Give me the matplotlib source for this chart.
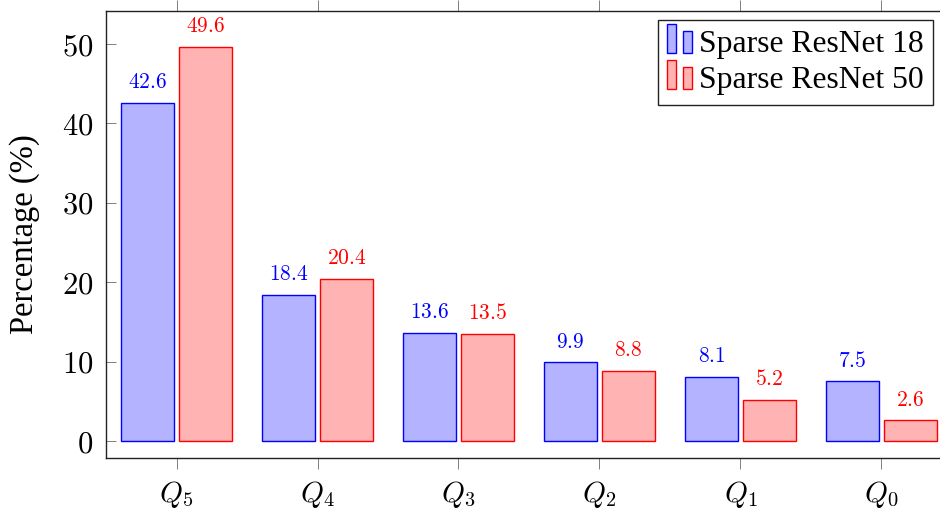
import numpy as np
import matplotlib.pyplot as plt
from matplotlib.legend_handler import HandlerBase
from matplotlib.patches import Rectangle, Patch

plt.rcParams['font.family'] = ['Liberation Serif', 'DejaVu Serif']
plt.rcParams['mathtext.fontset'] = 'cm'

# donnees
categories = [r'$Q_5$', r'$Q_4$', r'$Q_3$', r'$Q_2$', r'$Q_1$', r'$Q_0$']
resnet18 = [42.6, 18.4, 13.6, 9.9, 8.1, 7.5]
resnet50 = [49.6, 20.4, 13.5, 8.8, 5.2, 2.6]
labels = ['Sparse ResNet 18', 'Sparse ResNet 50']

blue_fill, blue_edge = '#b3b3ff', '#0000ff'
red_fill, red_edge = '#ffb3b3', '#ff0000'


class TwoBars(HandlerBase):  # legende style pgfplots ybar
    def create_artists(self, legend, orig_handle, xdescent, ydescent,
                       width, height, fontsize, trans):
        fc = orig_handle.get_facecolor()
        ec = orig_handle.get_edgecolor()
        w = width * 0.36
        r1 = Rectangle((-xdescent, -ydescent), w, height * 1.25,
                       facecolor=fc, edgecolor=ec, lw=1.0, transform=trans)
        r2 = Rectangle((-xdescent + width - w, -ydescent), w, height * 0.95,
                       facecolor=fc, edgecolor=ec, lw=1.0, transform=trans)
        return [r1, r2]


fig = plt.figure(figsize=(9.4, 5.13), dpi=100)
W, H = 940, 513
ax = fig.add_axes([106 / W, 1 - 457.7 / H, (952 - 106) / W, (457.7 - 10.7) / H])

x = np.arange(len(categories))
off, bw = 0.205, 0.38
b1 = ax.bar(x - off, resnet18, bw, color=blue_fill, edgecolor=blue_edge, lw=1.0)
b2 = ax.bar(x + off, resnet50, bw, color=red_fill, edgecolor=red_edge, lw=1.0)

for xi, v in zip(x, resnet18):
    ax.annotate(f'${v}$', (xi - off, v), xytext=(0, 7), textcoords='offset points',
                ha='center', va='bottom', color=blue_edge, fontsize=15.5)
for xi, v in zip(x, resnet50):
    ax.annotate(f'${v}$', (xi + off, v), xytext=(0, 7), textcoords='offset points',
                ha='center', va='bottom', color=red_edge, fontsize=15.5)

ax.set_xlim(-0.5, len(categories) - 0.5)
ax.set_ylim(-2.1, 54.2)
ax.set_xticks(x)
ax.set_xticklabels(categories, fontsize=21)
ax.set_yticks([0, 10, 20, 30, 40, 50])
ax.set_yticklabels([f'${t}$' for t in [0, 10, 20, 30, 40, 50]], fontsize=22)

ax.tick_params(axis='x', direction='out', length=8, width=0.7, color='#808080',
               top=True, pad=7)
ax.tick_params(axis='y', direction='in', length=7, width=0.7, color='#808080',
               right=True, pad=9)
for s in ax.spines.values():
    s.set_linewidth(1.0)
    s.set_color('#222222')

ax.set_ylabel('Percentage (%)', fontsize=23.5)
ax.yaxis.set_label_coords(-0.078, 0.5)

h1 = Patch(facecolor=blue_fill, edgecolor=blue_edge)
h2 = Patch(facecolor=red_fill, edgecolor=red_edge)
leg = fig.legend([h1, h2], labels, handler_map={Patch: TwoBars()},
                 loc='upper right', bbox_to_anchor=(933 / W, 1 - 20 / H),
                 fontsize=22.8, frameon=True, fancybox=False, framealpha=1,
                 edgecolor='#222222', handlelength=0.8, handleheight=0.75,
                 handletextpad=0.2, borderpad=0.3, labelspacing=0.2,
                 borderaxespad=0)
leg.get_frame().set_linewidth(1.0)

plt.savefig('out.png', dpi=100)
